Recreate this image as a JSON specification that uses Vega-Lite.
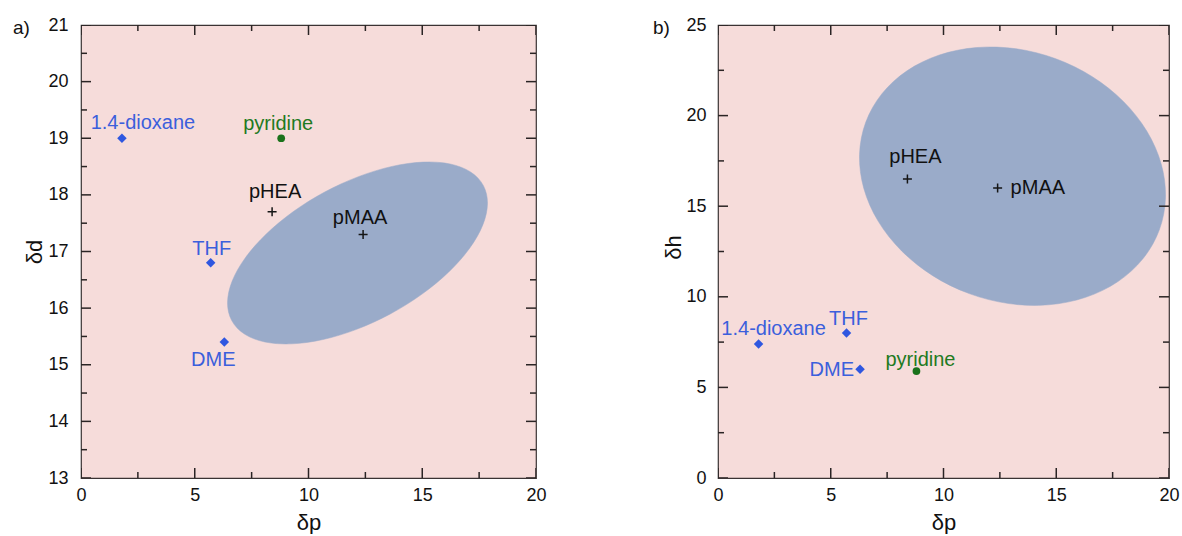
{
  "$schema": "https://vega.github.io/schema/vega-lite/v6.json",
  "background": "white",
  "padding": {"left": 12, "top": 15, "right": 0, "bottom": 0},
  "spacing": 105,
  "config": {
    "view": {"fill": "#f6dcda", "stroke": "#3a3333", "strokeWidth": 1.2},
    "axis": {
      "domain": false, "grid": false, "labelFlush": false, "labelOverlap": false, "ticks": false, "tickSize": 0,
      "labelFont": "Liberation Sans", "labelFontSize": 18, "labelColor": "#111",
      "titleFont": "Liberation Sans", "titleFontSize": 22, "titleFontWeight": "normal", "titleColor": "#111"
    },
    "title": {"font": "Liberation Sans", "fontSize": 19, "fontWeight": "normal", "color": "#111"}
  },
  "datasets": {
    "pts": [
      {"name": "1.4-dioxane", "kind": "solvent", "dp": 1.8, "dd": 19.0, "dh": 7.4},
      {"name": "THF", "kind": "solvent", "dp": 5.7, "dd": 16.8, "dh": 8.0},
      {"name": "DME", "kind": "solvent", "dp": 6.3, "dd": 15.4, "dh": 6.0},
      {"name": "pyridine", "kind": "pyridine", "dp": 8.8, "dd": 19.0, "dh": 5.9},
      {"name": "pHEA", "kind": "polymer", "dp": 8.4, "dd": 17.7, "dh": 16.5},
      {"name": "pMAA", "kind": "polymer", "dp": 12.4, "dd": 17.3, "dh": 16.0}
    ],
    "tx": [
      {"v": 0, "m": "major"}, {"v": 2.5, "m": "minor"}, {"v": 5, "m": "major"}, {"v": 7.5, "m": "minor"},
      {"v": 10, "m": "major"}, {"v": 12.5, "m": "minor"}, {"v": 15, "m": "major"}, {"v": 17.5, "m": "minor"},
      {"v": 20, "m": "major"}
    ],
    "tyA": [
      {"v": 13, "m": "major"}, {"v": 13.5, "m": "minor"}, {"v": 14, "m": "major"}, {"v": 14.5, "m": "minor"},
      {"v": 15, "m": "major"}, {"v": 15.5, "m": "minor"}, {"v": 16, "m": "major"}, {"v": 16.5, "m": "minor"},
      {"v": 17, "m": "major"}, {"v": 17.5, "m": "minor"}, {"v": 18, "m": "major"}, {"v": 18.5, "m": "minor"},
      {"v": 19, "m": "major"}, {"v": 19.5, "m": "minor"}, {"v": 20, "m": "major"}, {"v": 20.5, "m": "minor"},
      {"v": 21, "m": "major"}
    ],
    "tyB": [
      {"v": 0, "m": "major"}, {"v": 2.5, "m": "minor"}, {"v": 5, "m": "major"}, {"v": 7.5, "m": "minor"},
      {"v": 10, "m": "major"}, {"v": 12.5, "m": "minor"}, {"v": 15, "m": "major"}, {"v": 17.5, "m": "minor"},
      {"v": 20, "m": "major"}, {"v": 22.5, "m": "minor"}, {"v": 25, "m": "major"}
    ],
    "ellA": [
      {"i": 0, "dp": 17.683, "dd": 18.167}, {"i": 1, "dp": 17.122, "dd": 18.405},
      {"i": 2, "dp": 16.222, "dd": 18.546}, {"i": 3, "dp": 15.046, "dd": 18.579},
      {"i": 4, "dp": 13.672, "dd": 18.503}, {"i": 5, "dp": 12.194, "dd": 18.322},
      {"i": 6, "dp": 10.714, "dd": 18.051}, {"i": 7, "dp": 9.333, "dd": 17.705},
      {"i": 8, "dp": 8.143, "dd": 17.309}, {"i": 9, "dp": 7.226, "dd": 16.891},
      {"i": 10, "dp": 6.646, "dd": 16.479}, {"i": 11, "dp": 6.441, "dd": 16.100},
      {"i": 12, "dp": 6.625, "dd": 15.781}, {"i": 13, "dp": 7.186, "dd": 15.542},
      {"i": 14, "dp": 8.086, "dd": 15.402}, {"i": 15, "dp": 9.262, "dd": 15.369},
      {"i": 16, "dp": 10.636, "dd": 15.445}, {"i": 17, "dp": 12.114, "dd": 15.625},
      {"i": 18, "dp": 13.594, "dd": 15.897}, {"i": 19, "dp": 14.975, "dd": 16.243},
      {"i": 20, "dp": 16.165, "dd": 16.638}, {"i": 21, "dp": 17.082, "dd": 17.057},
      {"i": 22, "dp": 17.662, "dd": 17.469}, {"i": 23, "dp": 17.867, "dd": 17.848}
    ],
    "ellB": [
      {"i": 0, "dp": 19.569, "dh": 13.683}, {"i": 1, "dp": 19.844, "dh": 15.461},
      {"i": 2, "dp": 19.657, "dh": 17.322}, {"i": 3, "dp": 19.020, "dh": 19.137},
      {"i": 4, "dp": 17.977, "dh": 20.783}, {"i": 5, "dp": 16.599, "dh": 22.147},
      {"i": 6, "dp": 14.980, "dh": 23.138}, {"i": 7, "dp": 13.230, "dh": 23.687},
      {"i": 8, "dp": 11.468, "dh": 23.757}, {"i": 9, "dp": 9.815, "dh": 23.343},
      {"i": 10, "dp": 8.383, "dh": 22.474}, {"i": 11, "dp": 7.270, "dh": 21.207},
      {"i": 12, "dp": 6.551, "dh": 19.631}, {"i": 13, "dp": 6.276, "dh": 17.853},
      {"i": 14, "dp": 6.463, "dh": 15.992}, {"i": 15, "dp": 7.100, "dh": 14.177},
      {"i": 16, "dp": 8.143, "dh": 12.531}, {"i": 17, "dp": 9.521, "dh": 11.167},
      {"i": 18, "dp": 11.140, "dh": 10.176}, {"i": 19, "dp": 12.890, "dh": 9.627},
      {"i": 20, "dp": 14.652, "dh": 9.557}, {"i": 21, "dp": 16.305, "dh": 9.971},
      {"i": 22, "dp": 17.737, "dh": 10.841}, {"i": 23, "dp": 18.850, "dh": 12.107}
    ]
  },
  "hconcat": [
    {
      "width": 455, "height": 453,
      "title": {"text": "a)", "anchor": "start", "frame": "group", "offset": 0, "baseline": "middle", "dx": -68, "dy": 31},
      "resolve": {"axis": {"x": "independent", "y": "independent"}, "scale": {"size": "independent"}},
      "layer": [
        {
          "data": {"name": "ellA"},
          "mark": {"type": "line", "interpolate": "cardinal-closed", "fill": "#9aabc9", "stroke": "#9aabc9", "strokeWidth": 0.5},
          "encoding": {
            "x": {"field": "dp", "type": "quantitative", "scale": {"domain": [0, 20], "nice": false, "zero": false},
              "axis": {"orient": "bottom", "values": [0, 5, 10, 15, 20], "format": "d", "labelPadding": 8,
                "title": "δp", "titleY": 44, "titleBaseline": "middle"}},
            "y": {"field": "dd", "type": "quantitative", "scale": {"domain": [13, 21], "nice": false, "zero": false},
              "axis": {"orient": "left", "values": [13, 14, 15, 16, 17, 18, 19, 20, 21], "format": "d", "labelPadding": 13,
                "title": "δd", "titleX": -47, "titleY": 226.5, "titleBaseline": "middle", "titleAngle": -90}},
            "order": {"field": "i", "type": "quantitative"}
          }
        },
        {"data": {"name": "tx"},
          "mark": {"type": "tick", "orient": "vertical", "clip": true, "color": "#2a2424", "thickness": 1.5, "opacity": 1},
          "encoding": {"x": {"field": "v", "type": "quantitative", "scale": {"domain": [0, 20], "nice": false, "zero": false}, "axis": null},
            "y": {"datum": 13, "type": "quantitative", "scale": {"domain": [13, 21], "nice": false, "zero": false}, "axis": null},
            "size": {"field": "m", "type": "ordinal", "scale": {"domain": ["major", "minor"], "range": [20, 12]}, "legend": null}}},
        {"data": {"name": "tx"},
          "mark": {"type": "tick", "orient": "vertical", "clip": true, "color": "#2a2424", "thickness": 1.5, "opacity": 1},
          "encoding": {"x": {"field": "v", "type": "quantitative", "scale": {"domain": [0, 20], "nice": false, "zero": false}, "axis": null},
            "y": {"datum": 21, "type": "quantitative", "scale": {"domain": [13, 21], "nice": false, "zero": false}, "axis": null},
            "size": {"field": "m", "type": "ordinal", "scale": {"domain": ["major", "minor"], "range": [20, 12]}, "legend": null}}},
        {"data": {"name": "tyA"},
          "mark": {"type": "tick", "orient": "horizontal", "clip": true, "color": "#2a2424", "thickness": 1.5, "opacity": 1},
          "encoding": {"y": {"field": "v", "type": "quantitative", "scale": {"domain": [13, 21], "nice": false, "zero": false}, "axis": null},
            "x": {"datum": 0, "type": "quantitative", "scale": {"domain": [0, 20], "nice": false, "zero": false}, "axis": null},
            "size": {"field": "m", "type": "ordinal", "scale": {"domain": ["major", "minor"], "range": [20, 12]}, "legend": null}}},
        {"data": {"name": "tyA"},
          "mark": {"type": "tick", "orient": "horizontal", "clip": true, "color": "#2a2424", "thickness": 1.5, "opacity": 1},
          "encoding": {"y": {"field": "v", "type": "quantitative", "scale": {"domain": [13, 21], "nice": false, "zero": false}, "axis": null},
            "x": {"datum": 20, "type": "quantitative", "scale": {"domain": [0, 20], "nice": false, "zero": false}, "axis": null},
            "size": {"field": "m", "type": "ordinal", "scale": {"domain": ["major", "minor"], "range": [20, 12]}, "legend": null}}},
        {
          "data": {"name": "pts"},
          "transform": [{"filter": "datum.kind !== 'polymer'"}],
          "mark": {"type": "point", "filled": true, "opacity": 1},
          "encoding": {
            "x": {"field": "dp", "type": "quantitative", "scale": {"domain": [0, 20], "nice": false, "zero": false}, "axis": null},
            "y": {"field": "dd", "type": "quantitative", "scale": {"domain": [13, 21], "nice": false, "zero": false}, "axis": null},
            "shape": {"field": "kind", "type": "nominal", "scale": {"domain": ["solvent", "pyridine"], "range": ["diamond", "circle"]}, "legend": null},
            "color": {"field": "kind", "type": "nominal", "scale": {"domain": ["solvent", "pyridine"], "range": ["#2f57e0", "#1b721b"]}, "legend": null},
            "size": {"field": "kind", "type": "nominal", "scale": {"domain": ["solvent", "pyridine"], "range": [90, 60]}, "legend": null}
          }
        },
        {
          "data": {"name": "pts"},
          "transform": [{"filter": "datum.kind === 'polymer'"}],
          "mark": {"type": "point", "shape": "M-1,0H1M0,-1V1", "filled": false, "color": "#151515", "strokeWidth": 1.5, "size": 81, "opacity": 1},
          "encoding": {
            "x": {"field": "dp", "type": "quantitative", "scale": {"domain": [0, 20], "nice": false, "zero": false}, "axis": null},
            "y": {"field": "dd", "type": "quantitative", "scale": {"domain": [13, 21], "nice": false, "zero": false}, "axis": null}
          }
        },
        {"data": {"name": "pts"}, "transform": [{"filter": "datum.name === '1.4-dioxane'"}],
          "mark": {"type": "text", "font": "Liberation Sans", "fontSize": 20, "color": "#3b5fdc", "align": "center", "baseline": "alphabetic", "dx": 21, "dy": -9},
          "encoding": {"x": {"field": "dp", "type": "quantitative", "scale": {"domain": [0, 20], "nice": false, "zero": false}, "axis": null},
            "y": {"field": "dd", "type": "quantitative", "scale": {"domain": [13, 21], "nice": false, "zero": false}, "axis": null}, "text": {"field": "name"}}},
        {"data": {"name": "pts"}, "transform": [{"filter": "datum.name === 'pyridine'"}],
          "mark": {"type": "text", "font": "Liberation Sans", "fontSize": 20, "color": "#1f7a1f", "align": "center", "baseline": "alphabetic", "dx": -3, "dy": -8},
          "encoding": {"x": {"field": "dp", "type": "quantitative", "scale": {"domain": [0, 20], "nice": false, "zero": false}, "axis": null},
            "y": {"field": "dd", "type": "quantitative", "scale": {"domain": [13, 21], "nice": false, "zero": false}, "axis": null}, "text": {"field": "name"}}},
        {"data": {"name": "pts"}, "transform": [{"filter": "datum.name === 'pHEA'"}],
          "mark": {"type": "text", "font": "Liberation Sans", "fontSize": 20, "color": "#111", "align": "center", "baseline": "alphabetic", "dx": 3, "dy": -14},
          "encoding": {"x": {"field": "dp", "type": "quantitative", "scale": {"domain": [0, 20], "nice": false, "zero": false}, "axis": null},
            "y": {"field": "dd", "type": "quantitative", "scale": {"domain": [13, 21], "nice": false, "zero": false}, "axis": null}, "text": {"field": "name"}}},
        {"data": {"name": "pts"}, "transform": [{"filter": "datum.name === 'pMAA'"}],
          "mark": {"type": "text", "font": "Liberation Sans", "fontSize": 20, "color": "#111", "align": "center", "baseline": "alphabetic", "dx": -3, "dy": -11},
          "encoding": {"x": {"field": "dp", "type": "quantitative", "scale": {"domain": [0, 20], "nice": false, "zero": false}, "axis": null},
            "y": {"field": "dd", "type": "quantitative", "scale": {"domain": [13, 21], "nice": false, "zero": false}, "axis": null}, "text": {"field": "name"}}},
        {"data": {"name": "pts"}, "transform": [{"filter": "datum.name === 'THF'"}],
          "mark": {"type": "text", "font": "Liberation Sans", "fontSize": 20, "color": "#3b5fdc", "align": "center", "baseline": "alphabetic", "dx": 1, "dy": -8},
          "encoding": {"x": {"field": "dp", "type": "quantitative", "scale": {"domain": [0, 20], "nice": false, "zero": false}, "axis": null},
            "y": {"field": "dd", "type": "quantitative", "scale": {"domain": [13, 21], "nice": false, "zero": false}, "axis": null}, "text": {"field": "name"}}},
        {"data": {"name": "pts"}, "transform": [{"filter": "datum.name === 'DME'"}],
          "mark": {"type": "text", "font": "Liberation Sans", "fontSize": 20, "color": "#3b5fdc", "align": "center", "baseline": "alphabetic", "dx": -11, "dy": 24},
          "encoding": {"x": {"field": "dp", "type": "quantitative", "scale": {"domain": [0, 20], "nice": false, "zero": false}, "axis": null},
            "y": {"field": "dd", "type": "quantitative", "scale": {"domain": [13, 21], "nice": false, "zero": false}, "axis": null}, "text": {"field": "name"}}}
      ]
    },
    {
      "width": 451, "height": 453,
      "title": {"text": "b)", "anchor": "start", "frame": "group", "offset": 0, "baseline": "middle", "dx": -65, "dy": 31},
      "resolve": {"axis": {"x": "independent", "y": "independent"}, "scale": {"size": "independent"}},
      "layer": [
        {
          "data": {"name": "ellB"},
          "mark": {"type": "line", "interpolate": "cardinal-closed", "fill": "#9aabc9", "stroke": "#9aabc9", "strokeWidth": 0.5},
          "encoding": {
            "x": {"field": "dp", "type": "quantitative", "scale": {"domain": [0, 20], "nice": false, "zero": false},
              "axis": {"orient": "bottom", "values": [0, 5, 10, 15, 20], "format": "d", "labelPadding": 8,
                "title": "δp", "titleY": 44, "titleBaseline": "middle"}},
            "y": {"field": "dh", "type": "quantitative", "scale": {"domain": [0, 25], "nice": false, "zero": false},
              "axis": {"orient": "left", "values": [0, 5, 10, 15, 20, 25], "format": "d", "labelPadding": 12,
                "title": "δh", "titleX": -45, "titleY": 222, "titleBaseline": "middle", "titleAngle": -90}},
            "order": {"field": "i", "type": "quantitative"}
          }
        },
        {"data": {"name": "tx"},
          "mark": {"type": "tick", "orient": "vertical", "clip": true, "color": "#2a2424", "thickness": 1.5, "opacity": 1},
          "encoding": {"x": {"field": "v", "type": "quantitative", "scale": {"domain": [0, 20], "nice": false, "zero": false}, "axis": null},
            "y": {"datum": 0, "type": "quantitative", "scale": {"domain": [0, 25], "nice": false, "zero": false}, "axis": null},
            "size": {"field": "m", "type": "ordinal", "scale": {"domain": ["major", "minor"], "range": [20, 12]}, "legend": null}}},
        {"data": {"name": "tx"},
          "mark": {"type": "tick", "orient": "vertical", "clip": true, "color": "#2a2424", "thickness": 1.5, "opacity": 1},
          "encoding": {"x": {"field": "v", "type": "quantitative", "scale": {"domain": [0, 20], "nice": false, "zero": false}, "axis": null},
            "y": {"datum": 25, "type": "quantitative", "scale": {"domain": [0, 25], "nice": false, "zero": false}, "axis": null},
            "size": {"field": "m", "type": "ordinal", "scale": {"domain": ["major", "minor"], "range": [20, 12]}, "legend": null}}},
        {"data": {"name": "tyB"},
          "mark": {"type": "tick", "orient": "horizontal", "clip": true, "color": "#2a2424", "thickness": 1.5, "opacity": 1},
          "encoding": {"y": {"field": "v", "type": "quantitative", "scale": {"domain": [0, 25], "nice": false, "zero": false}, "axis": null},
            "x": {"datum": 0, "type": "quantitative", "scale": {"domain": [0, 20], "nice": false, "zero": false}, "axis": null},
            "size": {"field": "m", "type": "ordinal", "scale": {"domain": ["major", "minor"], "range": [20, 12]}, "legend": null}}},
        {"data": {"name": "tyB"},
          "mark": {"type": "tick", "orient": "horizontal", "clip": true, "color": "#2a2424", "thickness": 1.5, "opacity": 1},
          "encoding": {"y": {"field": "v", "type": "quantitative", "scale": {"domain": [0, 25], "nice": false, "zero": false}, "axis": null},
            "x": {"datum": 20, "type": "quantitative", "scale": {"domain": [0, 20], "nice": false, "zero": false}, "axis": null},
            "size": {"field": "m", "type": "ordinal", "scale": {"domain": ["major", "minor"], "range": [20, 12]}, "legend": null}}},
        {
          "data": {"name": "pts"},
          "transform": [{"filter": "datum.kind !== 'polymer'"}],
          "mark": {"type": "point", "filled": true, "opacity": 1},
          "encoding": {
            "x": {"field": "dp", "type": "quantitative", "scale": {"domain": [0, 20], "nice": false, "zero": false}, "axis": null},
            "y": {"field": "dh", "type": "quantitative", "scale": {"domain": [0, 25], "nice": false, "zero": false}, "axis": null},
            "shape": {"field": "kind", "type": "nominal", "scale": {"domain": ["solvent", "pyridine"], "range": ["diamond", "circle"]}, "legend": null},
            "color": {"field": "kind", "type": "nominal", "scale": {"domain": ["solvent", "pyridine"], "range": ["#2f57e0", "#1b721b"]}, "legend": null},
            "size": {"field": "kind", "type": "nominal", "scale": {"domain": ["solvent", "pyridine"], "range": [90, 60]}, "legend": null}
          }
        },
        {
          "data": {"name": "pts"},
          "transform": [{"filter": "datum.kind === 'polymer'"}],
          "mark": {"type": "point", "shape": "M-1,0H1M0,-1V1", "filled": false, "color": "#151515", "strokeWidth": 1.5, "size": 81, "opacity": 1},
          "encoding": {
            "x": {"field": "dp", "type": "quantitative", "scale": {"domain": [0, 20], "nice": false, "zero": false}, "axis": null},
            "y": {"field": "dh", "type": "quantitative", "scale": {"domain": [0, 25], "nice": false, "zero": false}, "axis": null}
          }
        },
        {"data": {"name": "pts"}, "transform": [{"filter": "datum.name === '1.4-dioxane'"}],
          "mark": {"type": "text", "font": "Liberation Sans", "fontSize": 20, "color": "#3b5fdc", "align": "center", "baseline": "alphabetic", "dx": 15, "dy": -9},
          "encoding": {"x": {"field": "dp", "type": "quantitative", "scale": {"domain": [0, 20], "nice": false, "zero": false}, "axis": null},
            "y": {"field": "dh", "type": "quantitative", "scale": {"domain": [0, 25], "nice": false, "zero": false}, "axis": null}, "text": {"field": "name"}}},
        {"data": {"name": "pts"}, "transform": [{"filter": "datum.name === 'THF'"}],
          "mark": {"type": "text", "font": "Liberation Sans", "fontSize": 20, "color": "#3b5fdc", "align": "center", "baseline": "alphabetic", "dx": 2, "dy": -8},
          "encoding": {"x": {"field": "dp", "type": "quantitative", "scale": {"domain": [0, 20], "nice": false, "zero": false}, "axis": null},
            "y": {"field": "dh", "type": "quantitative", "scale": {"domain": [0, 25], "nice": false, "zero": false}, "axis": null}, "text": {"field": "name"}}},
        {"data": {"name": "pts"}, "transform": [{"filter": "datum.name === 'DME'"}],
          "mark": {"type": "text", "font": "Liberation Sans", "fontSize": 20, "color": "#3b5fdc", "align": "right", "baseline": "alphabetic", "dx": -6, "dy": 7},
          "encoding": {"x": {"field": "dp", "type": "quantitative", "scale": {"domain": [0, 20], "nice": false, "zero": false}, "axis": null},
            "y": {"field": "dh", "type": "quantitative", "scale": {"domain": [0, 25], "nice": false, "zero": false}, "axis": null}, "text": {"field": "name"}}},
        {"data": {"name": "pts"}, "transform": [{"filter": "datum.name === 'pyridine'"}],
          "mark": {"type": "text", "font": "Liberation Sans", "fontSize": 20, "color": "#1f7a1f", "align": "center", "baseline": "alphabetic", "dx": 4, "dy": -5},
          "encoding": {"x": {"field": "dp", "type": "quantitative", "scale": {"domain": [0, 20], "nice": false, "zero": false}, "axis": null},
            "y": {"field": "dh", "type": "quantitative", "scale": {"domain": [0, 25], "nice": false, "zero": false}, "axis": null}, "text": {"field": "name"}}},
        {"data": {"name": "pts"}, "transform": [{"filter": "datum.name === 'pHEA'"}],
          "mark": {"type": "text", "font": "Liberation Sans", "fontSize": 20, "color": "#111", "align": "center", "baseline": "alphabetic", "dx": 8, "dy": -16},
          "encoding": {"x": {"field": "dp", "type": "quantitative", "scale": {"domain": [0, 20], "nice": false, "zero": false}, "axis": null},
            "y": {"field": "dh", "type": "quantitative", "scale": {"domain": [0, 25], "nice": false, "zero": false}, "axis": null}, "text": {"field": "name"}}},
        {"data": {"name": "pts"}, "transform": [{"filter": "datum.name === 'pMAA'"}],
          "mark": {"type": "text", "font": "Liberation Sans", "fontSize": 20, "color": "#111", "align": "left", "baseline": "alphabetic", "dx": 13, "dy": 6},
          "encoding": {"x": {"field": "dp", "type": "quantitative", "scale": {"domain": [0, 20], "nice": false, "zero": false}, "axis": null},
            "y": {"field": "dh", "type": "quantitative", "scale": {"domain": [0, 25], "nice": false, "zero": false}, "axis": null}, "text": {"field": "name"}}}
      ]
    }
  ]
}
